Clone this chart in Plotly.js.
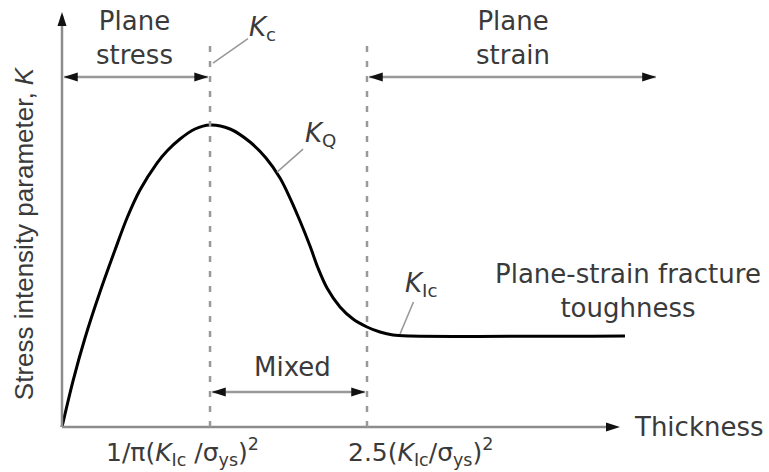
<!DOCTYPE html>
<html>
<head>
<meta charset="utf-8">
<script src="https://cdn.plot.ly/plotly-3.0.1.min.js"></script>
<style>html,body{margin:0;padding:0;background:#fff;}#chart{width:769px;height:472px;}</style>
</head>
<body>
<div id="chart"></div>
<script>
// ---- Data (arbitrary units: thickness 0-100, K 0-100) ----
const thickness = [0, 1.90, 3.98, 6.57, 9.17, 11.25, 13.49, 16.44, 18.17, 20.42, 23.01, 25.61,
  29.07, 32.53, 35.29, 37.72, 39.45, 41.18, 42.91, 44.29, 45.85, 48.10, 50.35, 52.77, 55.02, 57.27, 60.21, 97.40];
const stressK = [0, 11.08, 21.45, 32.53, 42.65, 50.36, 57.11, 63.61, 66.51, 69.40, 71.81, 72.77,
  71.81, 68.67, 64.82, 60.00, 55.18, 49.64, 43.61, 38.31, 33.49, 28.92, 26.02, 24.10, 22.89, 22.17, 21.93, 21.93];

const transitionT = [25.61, 52.77];          // 1/π(KIc/σys)², 2.5(KIc/σys)²
const transitionTop = [92.0, 92.8];
const tickLabels = ['1/π(<i>K</i><sub>Ic</sub> /σ<sub>ys</sub>)<sup>2</sup>',
                    '2.5(<i>K</i><sub>Ic</sub>/σ<sub>ys</sub>)<sup>2</sup>'];
const tickLabelX = [20.9, 62.1];

const regionNames = ['Plane<br>stress', 'Plane<br>strain', 'Mixed'];
const regionStart = [0, 52.77, 25.61];
const regionEnd = [25.61, 103.1, 52.77];
const regionArrowK = [84.34, 84.34, 8.43];
const regionLabelT = [12.6, 78.0, 39.8];
const regionLabelK = [93.8, 93.8, 14.5];

const kLabels = ['<i>K</i><sub>c</sub>', '<i>K</i><sub>Q</sub>', '<i>K</i><sub>Ic</sub>'];
const kPointT = [26.12, 37.2, 58.48];
const kPointK = [87.7, 61.4, 22.4];
const kOffX = [50, 43, 21];
const kOffY = [-35, -38, -50];

const xAxisEnd = 96.54, yAxisEnd = 100;

// ---- styles ----
const FONT = 'DejaVu Sans, Arial, sans-serif';
const TXT = '#3a3a3a';
const GREY = '#8c8c8c';

const shapes = [];
const annotations = [];

function head(x, y, dir) {
  let path;
  if (dir === 'r') path = 'M0,0 L-14,4.5 L-14,-4.5 Z';
  else if (dir === 'l') path = 'M0,0 L14,4.5 L14,-4.5 Z';
  else path = 'M0,0 L-4.5,-14 L4.5,-14 Z';
  shapes.push({type: 'path', xref: 'x', yref: 'y', xsizemode: 'pixel', ysizemode: 'pixel',
    xanchor: x, yanchor: y, path: path, fillcolor: '#111', line: {width: 0}, layer: 'above'});
}

// axes
shapes.push({type: 'line', xref: 'x', yref: 'y', x0: 0, x1: xAxisEnd - 1, y0: 0, y1: 0,
  line: {color: GREY, width: 2.5}});
shapes.push({type: 'line', xref: 'x', yref: 'y', x0: 0, x1: 0, y0: 0, y1: yAxisEnd - 1,
  line: {color: GREY, width: 2.5}});
head(xAxisEnd, 0, 'r');
head(0, yAxisEnd, 'u');

// transition dashed lines
transitionT.forEach((t, i) => {
  shapes.push({type: 'line', xref: 'x', yref: 'y', x0: t, x1: t, y0: 0, y1: transitionTop[i],
    line: {color: '#999', width: 2.5, dash: '6px,9px'}});
});

// region arrows
regionNames.forEach((name, i) => {
  shapes.push({type: 'line', xref: 'x', yref: 'y', x0: regionStart[i] + 0.4, x1: regionEnd[i] - 0.4,
    y0: regionArrowK[i], y1: regionArrowK[i], line: {color: '#999', width: 2.5}});
  head(regionStart[i] + 0.3, regionArrowK[i], 'l');
  head(regionEnd[i] - 0.3, regionArrowK[i], 'r');
  annotations.push({x: regionLabelT[i], y: regionLabelK[i], xref: 'x', yref: 'y', text: name,
    showarrow: false, font: {family: FONT, size: 26, color: TXT}, align: 'center'});
});

// K labels with leader lines
kLabels.forEach((lab, i) => {
  annotations.push({x: kPointT[i], y: kPointK[i], xref: 'x', yref: 'y', text: lab,
    showarrow: true, arrowhead: 0, arrowwidth: 1.6, arrowcolor: '#999', ax: kOffX[i], ay: kOffY[i],
    font: {family: FONT, size: 26, color: TXT}});
});

annotations.push({x: 97.9, y: 32.8, xref: 'x', yref: 'y', text: 'Plane-strain fracture<br>toughness',
  showarrow: false, font: {family: FONT, size: 26, color: TXT}, align: 'center'});
annotations.push({x: 98.6, y: 0, xref: 'x', yref: 'y', text: 'Thickness', xanchor: 'left', yanchor: 'middle',
  showarrow: false, font: {family: FONT, size: 26, color: TXT}});
tickLabels.forEach((lab, i) => {
  annotations.push({x: tickLabelX[i], y: -0.034, xref: 'x', yref: 'paper', text: lab,
    xanchor: 'center', yanchor: 'middle',
    showarrow: false, font: {family: FONT, size: 25, color: TXT}});
});
annotations.push({x: -0.0426, y: 46.7, xref: 'paper', yref: 'y', text: 'Stress intensity parameter, <i>K</i>',
  xanchor: 'center', yanchor: 'middle',
  textangle: -90, showarrow: false, font: {family: 'Liberation Sans, Arial, sans-serif', size: 26, color: TXT}});

const traces = [{
  x: thickness, y: stressK, type: 'scatter', mode: 'lines',
  line: {color: '#000', width: 3, shape: 'spline', smoothing: 0.9},
  hoverinfo: 'skip', showlegend: false
}];

const layout = {
  width: 769, height: 472,
  margin: {l: 52, r: 59, t: 5, b: 35},
  paper_bgcolor: '#fff', plot_bgcolor: '#fff',
  xaxis: {range: [-1.73, 112.11], visible: false, fixedrange: true},
  yaxis: {range: [-2.41, 101.69], visible: false, fixedrange: true},
  shapes: shapes, annotations: annotations, showlegend: false
};

Plotly.newPlot('chart', traces, layout, {staticPlot: true, displayModeBar: false});
</script>
</body>
</html>
